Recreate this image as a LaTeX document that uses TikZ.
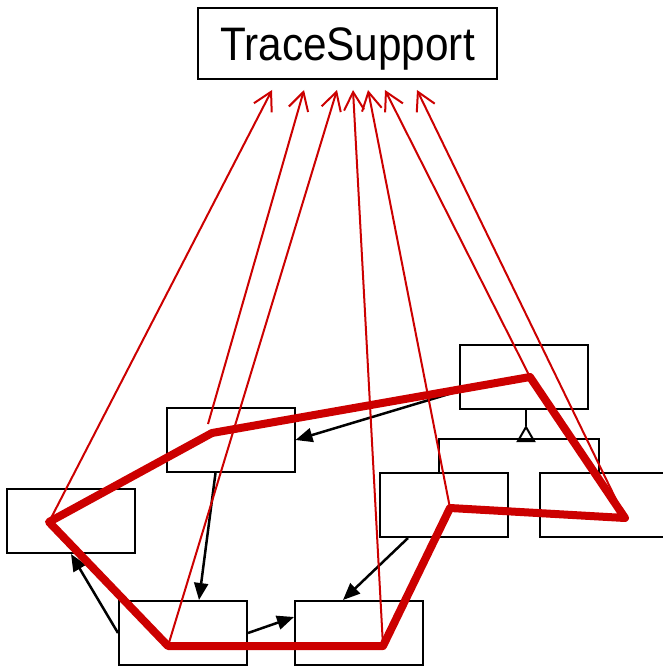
\documentclass[tikz,border=0pt]{standalone}
\usepackage{fontspec}
\setmainfont{Liberation Sans}
\usetikzlibrary{arrows.meta,calc}

\definecolor{tracered}{RGB}{204,0,0}

\tikzset{
  cls/.style={draw,line width=2pt,minimum width=128pt,minimum height=64pt,inner sep=0pt},
  assoc/.style={line width=2.5pt,-{Triangle[length=17pt,width=14pt]}},
  gen/.style={line width=2pt},
  trace/.style={draw=tracered,line width=2pt,-{Straight Barb[length=18pt,width=20pt]}},
  tour/.style={draw=tracered,line width=8pt,line join=round},
}

\begin{document}
\begin{tikzpicture}[x=1pt,y=-1pt]
  \useasboundingbox (0,0) rectangle (663,666);

  \node[cls,minimum width=299pt,minimum height=71pt,text height=34pt,text depth=0pt]
    (ts) at (347.5,43.5) {\fontsize{47}{47}\selectfont\scalebox{0.9}[1]{TraceSupport}};

  \node[cls] (A) at (230.5,440) {};
  \node[cls] (B) at (71,521)    {};
  \node[cls] (C) at (183,633)   {};
  \node[cls] (D) at (359,633)   {};
  \node[cls] (E) at (524,377)   {};
  \node[cls] (F) at (444,505)   {};
  \node[cls] (G) at (604,505)   {};

  \draw[gen] ($(F.north)+(-5,0)$) |- ($(G.north)+(-5,-33)$) -- ($(G.north)+(-5,0)$);
  \draw[gen,-{Triangle[open,length=17pt,width=19pt]}] ($(E.south)+(2,31)$) -- ($(E.south)+(2,15)$);
  \draw[gen] ($(E.south)+(2,0)$) -- ($(E.south)+(2,16)$);

  \draw[assoc] ($(E.west)+(0,14)$)  -- (A.east);
  \draw[assoc] ($(A.south)+(-15,0)$) -- ($(C.north)+(16,0)$);
  \draw[assoc] (C.west)              -- (B.south);
  \draw[assoc] (C.east)              -- ($(D.west)+(0,-16)$);
  \draw[assoc] ($(F.south)+(-36,0)$) -- ($(D.north)+(-16,0)$);

  \coordinate (pE) at ($(E)+(6,0)$);
  \coordinate (pA) at ($(A)+(-18.5,-7)$);
  \coordinate (qA) at ($(A)+(-22.5,-16)$);
  \coordinate (pB) at ($(B)+(-22,1)$);
  \coordinate (pC) at ($(C)+(-15,13)$);
  \coordinate (pD) at ($(D)+(24,13)$);
  \coordinate (pF) at ($(F)+(6,3)$);
  \coordinate (pG) at ($(G)+(21,13)$);

  \draw[tour] (pE) -- (pA) -- (pB) -- (pC) -- (pD) -- (pF) -- (pG) -- cycle;

  \foreach \p/\dx in {pB/-75.5,qA/-43.5,pC/-10.5,pD/5.5,pF/20.5,pE/37.5,pG/69.5}
    \draw[trace] (\p) -- ($(ts.south)+(\dx,10)$);
\end{tikzpicture}
\end{document}
